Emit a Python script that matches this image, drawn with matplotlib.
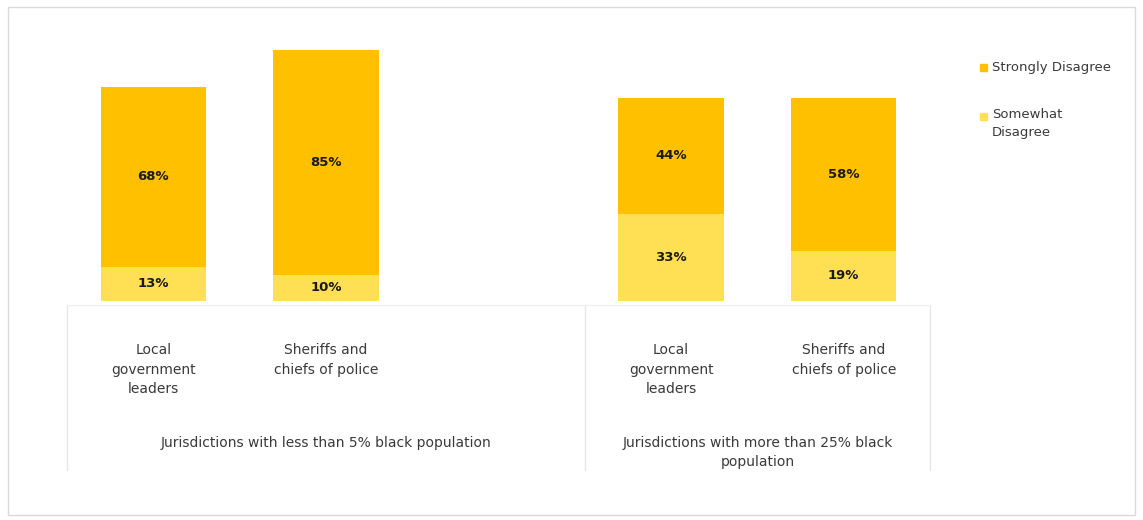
import matplotlib.pyplot as plt

plt.rcParams['font.family'] = ['DejaVu Sans']

categories = ['Local\ngovernment\nleaders', 'Sheriffs and\nchiefs of police', '',
              'Local\ngovernment\nleaders', 'Sheriffs and\nchiefs of police']
somewhat = [13, 10, None, 33, 19]
strongly = [68, 85, None, 44, 58]
groups = ['Jurisdictions with less than 5% black population',
          'Jurisdictions with more than 25% black\npopulation']

c_strong = '#FFC000'
c_some = '#FFE055'
txt = '#3a3a3a'

fig = plt.figure(figsize=(11.43, 5.2), dpi=100)
ax = fig.add_axes([67 / 1143, 1 - 301 / 520, (930 - 67) / 1143, 264 / 520])

xs = [i for i in range(len(categories)) if somewhat[i] is not None]
s1 = [somewhat[i] for i in xs]
s2 = [strongly[i] for i in xs]
ax.bar(xs, s1, width=0.61, color=c_some)
ax.bar(xs, s2, width=0.61, bottom=s1, color=c_strong)

for x, a, b in zip(xs, s1, s2):
    ax.text(x, a / 2, f'{a}%', ha='center', va='center', fontsize=9.5,
            fontweight='bold', color='#1a1a1a')
    ax.text(x, a + b / 2, f'{b}%', ha='center', va='center', fontsize=9.5,
            fontweight='bold', color='#1a1a1a')

ax.set_xlim(-0.5, 4.5)
ax.set_ylim(0, 100)
ax.set_xticks([])
ax.set_yticks([])
for sp in ax.spines.values():
    sp.set_visible(False)

# category labels under the bars
for i, lab in enumerate(categories):
    ax.text(i, -0.16, lab, transform=ax.get_xaxis_transform(), ha='center',
            va='top', fontsize=10, color=txt, linespacing=1.5)

# group labels and separators
ax.text(1, -0.51, groups[0], transform=ax.get_xaxis_transform(), ha='center',
        va='top', fontsize=10, color=txt)
ax.text(3.5, -0.51, groups[1], transform=ax.get_xaxis_transform(), ha='center',
        va='top', fontsize=10, color=txt, linespacing=1.5)
for xsep in [-0.5, 2.5, 4.5]:
    ax.plot([xsep, xsep], [-0.015, -0.64], transform=ax.get_xaxis_transform(),
            color='#e6e6e6', lw=1, clip_on=False)
ax.plot([-0.5, 4.5], [-0.015, -0.015], transform=ax.get_xaxis_transform(),
        color='#f0f0f0', lw=1, clip_on=False)

# legend
fig.patches.append(plt.Rectangle((980 / 1143, 1 - 71 / 520), 7 / 1143, 7 / 520,
                                 transform=fig.transFigure, color=c_strong))
fig.text(992 / 1143, 1 - 67 / 520, 'Strongly Disagree', fontsize=9.5, color=txt,
         va='center')
fig.patches.append(plt.Rectangle((980 / 1143, 1 - 120 / 520), 7 / 1143, 7 / 520,
                                 transform=fig.transFigure, color=c_some))
fig.text(992 / 1143, 1 - 108 / 520, 'Somewhat\nDisagree', fontsize=9.5, color=txt,
         va='top', linespacing=1.5)

# outer frame
fig.patches.append(plt.Rectangle((8 / 1143, 5 / 520), 1127 / 1143, 508 / 520,
                                 transform=fig.transFigure, fill=False,
                                 edgecolor='#d9d9d9', lw=1))

fig.savefig('out.png', dpi=100)
